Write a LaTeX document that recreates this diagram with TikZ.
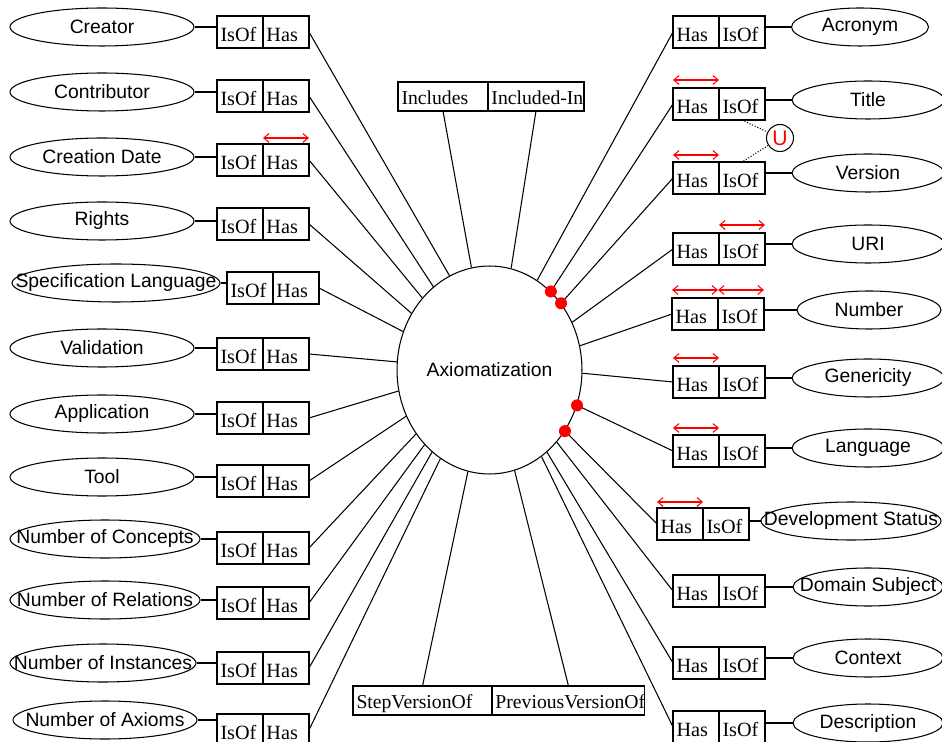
\documentclass[tikz,border=0pt]{standalone}
\usepackage{fontspec}
\setmainfont{Liberation Serif}
\newfontfamily\ovalfont{Liberation Sans}
\usetikzlibrary{shapes.geometric,positioning,arrows.meta}

\begin{document}
\begin{tikzpicture}[x=0.02cm,y=-0.02cm,
    oval/.style={ellipse, draw, line width=0.6pt, inner sep=0pt, minimum width=#1, minimum height=0.76cm,
        font=\ovalfont\fontsize{11}{13}\selectfont,
        execute at begin node={\hbox to 0pt\bgroup\hss}, execute at end node={\hss\egroup}},
    oval/.default=3.68cm,
    hub/.style={ellipse, draw, line width=0.6pt, inner sep=0pt, minimum width=3.7cm, minimum height=4.16cm,
        font=\ovalfont\fontsize{11}{13}\selectfont},
    cell/.style={draw, line width=0.6pt, rectangle, outer sep=0pt, inner xsep=0.07cm, inner ysep=0pt,
        text width=0.78cm, align=left, text height=0.52cm, text depth=0.12cm,
        font=\fontsize{11.5}{13}\selectfont},
    relcell/.style={cell, text width=#1, text height=0.45cm, text depth=0.13cm,
        font=\fontsize{11.2}{13}\selectfont},
    link/.style={line width=0.6pt},
    dotlink/.style={densely dotted, line width=0.6pt},
    redarrow/.style={red, line width=0.6pt,
        {Straight Barb[length=3pt,width=5pt]}-{Straight Barb[length=3pt,width=5pt]}},
    unionnode/.style={circle, draw, line width=0.6pt, inner sep=0pt, minimum size=0.54cm,
        text=red, font=\ovalfont\fontsize{12}{14}\selectfont},
    ]

    \useasboundingbox (0,0) rectangle (942,742);

    % Central concept
    \node[hub] (axio) at (489.5,370) {Axiomatization};

    % Top and bottom relations
    \node[relcell=1.66cm, anchor=north west] (includes) at (398,82) {Includes};
    \node[relcell=1.78cm, right=0pt of includes] (includedIn) {\mbox{Included-In}};
    \node[relcell=2.64cm, anchor=north west] (stepVersion) at (353,686) {StepVersionOf};
    \node[relcell=2.92cm, right=0pt of stepVersion] (prevVersion) {PreviousVersionOf};
    \draw[link] (includes.south) -- (axio.100);
    \draw[link] (includedIn.south) -- (axio.78);
    \draw[link] (stepVersion.north) -- (axio.258);
    \draw[link] (prevVersion.north) -- (axio.284);

    % Left attributes
    \node[oval] (creator) at (102,27) {Creator};
    \node[cell, anchor=north west] (creatorIsOf) at (217,16) {IsOf};
    \node[cell, right=0pt of creatorIsOf] (creatorHas) {Has};

    \node[oval] (contributor) at (102,92) {Contributor};
    \node[cell, anchor=north west] (contributorIsOf) at (217,80) {IsOf};
    \node[cell, right=0pt of contributorIsOf] (contributorHas) {Has};

    \node[oval] (creationDate) at (102,157) {Creation Date};
    \node[cell, anchor=north west] (creationDateIsOf) at (217,144) {IsOf};
    \node[cell, right=0pt of creationDateIsOf] (creationDateHas) {Has};

    \node[oval] (rights) at (102,221) {Rights};
    \node[cell, anchor=north west] (rightsIsOf) at (217,208) {IsOf};
    \node[cell, right=0pt of rightsIsOf] (rightsHas) {Has};

    \node[oval=4.16cm] (specLang) at (116,283) {Specification Language};
    \node[cell, anchor=north west] (specLangIsOf) at (227,272) {IsOf};
    \node[cell, right=0pt of specLangIsOf] (specLangHas) {Has};

    \node[oval] (validation) at (102,348) {Validation};
    \node[cell, anchor=north west] (validationIsOf) at (217,338) {IsOf};
    \node[cell, right=0pt of validationIsOf] (validationHas) {Has};

    \node[oval] (application) at (102,414) {Application};
    \node[cell, anchor=north west] (applicationIsOf) at (217,402) {IsOf};
    \node[cell, right=0pt of applicationIsOf] (applicationHas) {Has};

    \node[oval] (tool) at (102,477) {Tool};
    \node[cell, anchor=north west] (toolIsOf) at (217,465) {IsOf};
    \node[cell, right=0pt of toolIsOf] (toolHas) {Has};

    \node[oval=3.8cm] (nConcepts) at (105,539) {Number of Concepts};
    \node[cell, anchor=north west] (nConceptsIsOf) at (217,532) {IsOf};
    \node[cell, right=0pt of nConceptsIsOf] (nConceptsHas) {Has};

    \node[oval=3.8cm] (nRelations) at (105,600) {Number of Relations};
    \node[cell, anchor=north west] (nRelationsIsOf) at (217,587) {IsOf};
    \node[cell, right=0pt of nRelationsIsOf] (nRelationsHas) {Has};

    \node[oval=3.72cm] (nInstances) at (103,663) {Number of Instances};
    \node[cell, anchor=north west] (nInstancesIsOf) at (217,652) {IsOf};
    \node[cell, right=0pt of nInstancesIsOf] (nInstancesHas) {Has};

    \node[oval=3.68cm] (nAxioms) at (105,720) {Number of Axioms};
    \node[cell, anchor=north west] (nAxiomsIsOf) at (217,714) {IsOf};
    \node[cell, right=0pt of nAxiomsIsOf] (nAxiomsHas) {Has};

    % Left links
    \draw[link] (creator.east) -- (creator.east -| creatorIsOf.west);
    \draw[link] (contributor.east) -- (contributor.east -| contributorIsOf.west);
    \draw[link] (creationDate.east) -- (creationDate.east -| creationDateIsOf.west);
    \draw[link] (rights.east) -- (rights.east -| rightsIsOf.west);
    \draw[link] (specLang.east) -- (specLang.east -| specLangIsOf.west);
    \draw[link] (validation.east) -- (validation.east -| validationIsOf.west);
    \draw[link] (application.east) -- (application.east -| applicationIsOf.west);
    \draw[link] (tool.east) -- (tool.east -| toolIsOf.west);
    \draw[link] (nConcepts.east) -- (nConcepts.east -| nConceptsIsOf.west);
    \draw[link] (nRelations.east) -- (nRelations.east -| nRelationsIsOf.west);
    \draw[link] (nInstances.east) -- (nInstances.east -| nInstancesIsOf.west);
    \draw[link] (nAxioms.east) -- (nAxioms.east -| nAxiomsIsOf.west);

    \draw[link] (creatorHas.east) -- (axio.113);
    \draw[link] (contributorHas.east) -- (axio.124);
    \draw[link] (creationDateHas.east) -- (axio.133);
    \draw[link] (rightsHas.east) -- (axio.144);
    \draw[link] (specLangHas.east) -- (axio.156);
    \draw[link] (validationHas.east) -- (axio.175);
    \draw[link] (applicationHas.east) -- (axio.193.5);
    \draw[link] (toolHas.east) -- (axio.209);
    \draw[link] (nConceptsHas.east) -- (axio.221);
    \draw[link] (nRelationsHas.east) -- (axio.229);
    \draw[link] (nInstancesHas.east) -- (axio.235);
    \draw[link] (nAxiomsHas.east) -- (axio.241);

    % Right attributes
    \node[oval=2.74cm] (acronym) at (860,27) {Acronym};
    \node[cell, anchor=north west] (acronymHas) at (673,16) {Has};
    \node[cell, right=0pt of acronymHas] (acronymIsOf) {IsOf};

    \node[oval=3.04cm] (title) at (868,100) {Title};
    \node[cell, anchor=north west] (titleHas) at (673,88) {Has};
    \node[cell, right=0pt of titleHas] (titleIsOf) {IsOf};

    \node[oval=3.04cm] (version) at (868,173) {Version};
    \node[cell, anchor=north west] (versionHas) at (673,162) {Has};
    \node[cell, right=0pt of versionHas] (versionIsOf) {IsOf};

    \node[oval=3.04cm] (uri) at (868,244) {URI};
    \node[cell, anchor=north west] (uriHas) at (673,233) {Has};
    \node[cell, right=0pt of uriHas] (uriIsOf) {IsOf};

    \node[oval=2.88cm] (number) at (869,310) {Number};
    \node[cell, anchor=north west] (numberHas) at (672,298) {Has};
    \node[cell, right=0pt of numberHas] (numberIsOf) {IsOf};

    \node[oval=3.04cm] (genericity) at (868,378) {Genericity};
    \node[cell, anchor=north west] (genericityHas) at (673,366) {Has};
    \node[cell, right=0pt of genericityHas] (genericityIsOf) {IsOf};

    \node[oval=3.04cm] (language) at (868,448) {Language};
    \node[cell, anchor=north west] (languageHas) at (673,435) {Has};
    \node[cell, right=0pt of languageHas] (languageIsOf) {IsOf};

    \node[oval=3.6cm] (devStatus) at (851,521) {Development Status};
    \node[cell, anchor=north west] (devStatusHas) at (657,508) {Has};
    \node[cell, right=0pt of devStatusHas] (devStatusIsOf) {IsOf};

    \node[oval=3.0cm] (domain) at (868,587) {Domain Subject};
    \node[cell, anchor=north west] (domainHas) at (673,575) {Has};
    \node[cell, right=0pt of domainHas] (domainIsOf) {IsOf};

    \node[oval=3.0cm] (context) at (868,658) {Context};
    \node[cell, anchor=north west] (contextHas) at (673,647) {Has};
    \node[cell, right=0pt of contextHas] (contextIsOf) {IsOf};

    \node[oval=3.0cm] (description) at (868,723) {Description};
    \node[cell, anchor=north west] (descriptionHas) at (673,711) {Has};
    \node[cell, right=0pt of descriptionHas] (descriptionIsOf) {IsOf};

    % Right links
    \draw[link] (acronym.west) -- (acronym.west -| acronymIsOf.east);
    \draw[link] (title.west) -- (title.west -| titleIsOf.east);
    \draw[link] (version.west) -- (version.west -| versionIsOf.east);
    \draw[link] (uri.west) -- (uri.west -| uriIsOf.east);
    \draw[link] (number.west) -- (number.west -| numberIsOf.east);
    \draw[link] (genericity.west) -- (genericity.west -| genericityIsOf.east);
    \draw[link] (language.west) -- (language.west -| languageIsOf.east);
    \draw[link] (devStatus.west) -- (devStatus.west -| devStatusIsOf.east);
    \draw[link] (domain.west) -- (domain.west -| domainIsOf.east);
    \draw[link] (context.west) -- (context.west -| contextIsOf.east);
    \draw[link] (description.west) -- (description.west -| descriptionIsOf.east);

    \draw[link] (acronymHas.west) -- (axio.62);
    \draw[link] (titleHas.west) -- (axio.52);
    \draw[link] (versionHas.west) -- (axio.43);
    \draw[link] (uriHas.west) -- (axio.30);
    \draw[link] (numberHas.west) -- (axio.15);
    \draw[link] (genericityHas.west) -- (axio.358);
    \draw[link] (languageHas.west) -- (axio.338);
    \draw[link] (devStatusHas.west) -- (axio.321.5);
    \draw[link] (domainHas.west) -- (axio.313);
    \draw[link] (contextHas.west) -- (axio.305.5);
    \draw[link] (descriptionHas.west) -- (axio.301);

    % Red dots
    \fill[red] (axio.52) circle (0.12cm);
    \fill[red] (axio.43) circle (0.12cm);
    \fill[red] (axio.338) circle (0.12cm);
    \fill[red] (axio.321.5) circle (0.12cm);

    % Union of Title and Version
    \node[unionnode] (union) at (780,138) {U};
    \draw[dotlink] (titleIsOf.south) -- (union);
    \draw[dotlink] (union) -- (versionIsOf.north);

    % Red arrows
    \draw[redarrow] ([yshift=0.12cm]creationDateHas.north west) -- ([yshift=0.12cm]creationDateHas.north east);
    \draw[redarrow] ([yshift=0.16cm]titleHas.north west) -- ([yshift=0.16cm]titleHas.north east);
    \draw[redarrow] ([yshift=0.14cm]versionHas.north west) -- ([yshift=0.14cm]versionHas.north east);
    \draw[redarrow] ([yshift=0.16cm]uriIsOf.north west) -- ([yshift=0.16cm]uriIsOf.north east);
    \draw[redarrow] ([yshift=0.16cm]numberHas.north west) -- ([yshift=0.16cm]numberHas.north east);
    \draw[redarrow] ([yshift=0.16cm]numberIsOf.north west) -- ([yshift=0.16cm]numberIsOf.north east);
    \draw[redarrow] ([yshift=0.16cm]genericityHas.north west) -- ([yshift=0.16cm]genericityHas.north east);
    \draw[redarrow] ([yshift=0.14cm]languageHas.north west) -- ([yshift=0.14cm]languageHas.north east);
    \draw[redarrow] ([yshift=0.12cm]devStatusHas.north west) -- ([yshift=0.12cm]devStatusHas.north east);

\end{tikzpicture}
\end{document}
